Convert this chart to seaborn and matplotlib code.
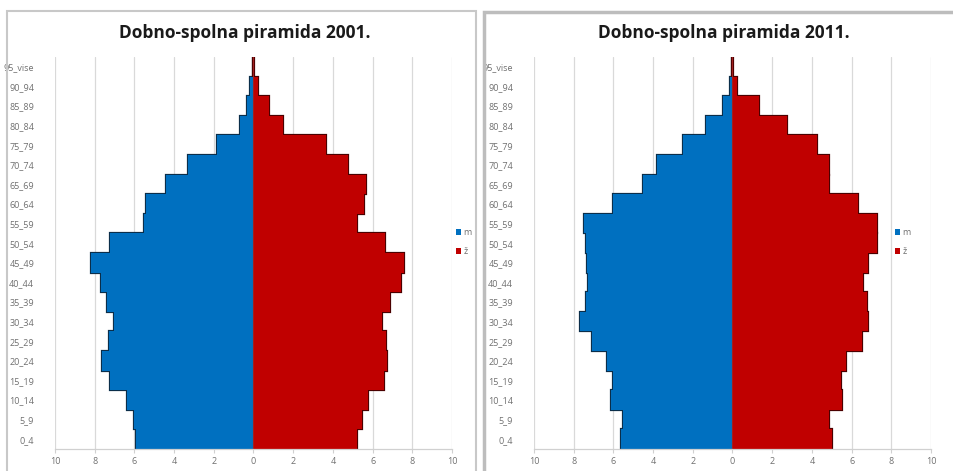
import matplotlib
matplotlib.use("Agg")
import matplotlib.pyplot as plt
import seaborn as sns
import pandas as pd
from matplotlib.patches import Rectangle

sns.set_theme(style="white")
plt.rcParams['font.family'] = ['Open Sans', 'DejaVu Sans']

age_groups = ["0_4", "5_9", "10_14", "15_19", "20_24", "25_29", "30_34", "35_39",
              "40_44", "45_49", "50_54", "55_59", "60_64", "65_69", "70_74",
              "75_79", "80_84", "85_89", "90_94", "95_vise"]

male_2001 = [5.92, 6.0, 6.35, 7.21, 7.63, 7.26, 7.04, 7.39, 7.68, 8.18,
             7.23, 5.53, 5.41, 4.4, 3.28, 1.85, 0.67, 0.34, 0.17, 0.03]
female_2001 = [5.23, 5.46, 5.76, 6.55, 6.72, 6.69, 6.47, 6.86, 7.45, 7.56,
               6.64, 5.23, 5.55, 5.65, 4.77, 3.63, 1.51, 0.77, 0.22, 0.04]

male_2011 = [5.6, 5.5, 6.1, 6.01, 6.3, 7.07, 7.69, 7.39, 7.27, 7.32,
             7.39, 7.49, 6.04, 4.49, 3.82, 2.51, 1.33, 0.46, 0.12, 0.02]
female_2011 = [5.0, 4.88, 5.52, 5.47, 5.72, 6.5, 6.82, 6.78, 6.58, 6.82,
               7.30, 7.27, 6.33, 4.88, 4.88, 4.25, 2.74, 1.31, 0.25, 0.04]

titles = ["Dobno-spolna piramida 2001.", "Dobno-spolna piramida 2011."]
legend_labels = ["m", "ž"]
x_ticks = [-10, -8, -6, -4, -2, 0, 2, 4, 6, 8, 10]

BLUE = "#0070C0"
RED = "#C00000"

W, H = 954, 471
fig = plt.figure(figsize=(W / 100, H / 100), dpi=100)

# chart frames
fig.add_artist(Rectangle((7 / W, -0.05), (476 - 7) / W, (471 - 11) / H + 0.05,
                         transform=fig.transFigure, fill=False,
                         edgecolor="#C8C8C8", linewidth=1.5))
fig.add_artist(Rectangle((484 / W, -0.05), (954 - 484) / W + 0.05, (471 - 12) / H + 0.05,
                         transform=fig.transFigure, fill=False,
                         edgecolor="#BDBDBD", linewidth=2.5))

order = age_groups[::-1]
datasets = [(male_2001, female_2001), (male_2011, female_2011)]
ax_lefts = [55 / W, 534 / W]
title_x = [245 / W, 724 / W]
legend_x = [452 / W, 891 / W]

for i, (male, female) in enumerate(datasets):
    ax = fig.add_axes([ax_lefts[i], 22 / H, 397 / W, 392 / H])
    df = pd.DataFrame({"age": age_groups,
                       "m": [-v for v in male],
                       "f": female})
    for x in x_ticks:
        ax.axvline(x, color="#D9D9D9", linewidth=0.9, zorder=0)
    # outline (shadow) layer
    sns.barplot(data=df, x="m", y="age", order=order, orient="h", ax=ax,
                color=BLUE, width=1.0, edgecolor="#0B2E4A", linewidth=1.6,
                saturation=1, zorder=1)
    sns.barplot(data=df, x="f", y="age", order=order, orient="h", ax=ax,
                color=RED, width=1.0, edgecolor="#4A0000", linewidth=1.6,
                saturation=1, zorder=1)
    # fill layer
    sns.barplot(data=df, x="m", y="age", order=order, orient="h", ax=ax,
                color=BLUE, width=1.0, linewidth=0,
                saturation=1, label=legend_labels[0], zorder=2)
    sns.barplot(data=df, x="f", y="age", order=order, orient="h", ax=ax,
                color=RED, width=1.0, linewidth=0,
                saturation=1, label=legend_labels[1], zorder=2)
    ax.axvline(0, color="#A02020", linewidth=0.8, zorder=3)
    ax.set_xlim(-10, 10)
    ax.set_ylim(len(order) - 0.5, -0.5)
    ax.set_xticks(x_ticks)
    ax.set_xticklabels([str(abs(x)) for x in x_ticks])
    ax.set_xlabel("")
    ax.set_ylabel("")
    for s in ["top", "right", "left"]:
        ax.spines[s].set_visible(False)
    ax.spines["bottom"].set_color("#D0D0D0")
    ax.spines["bottom"].set_linewidth(0.9)
    ax.spines["bottom"].set_zorder(4)
    ax.tick_params(axis="x", which="both", bottom=True, length=3, width=0.8,
                   color="#D0D0D0", labelsize=6.5, labelcolor="#707070", pad=3)
    ax.tick_params(axis="y", left=False, labelsize=6.5, labelcolor="#707070", pad=9)
    ax.set_facecolor("none")
    ax.grid(False)
    handles, labels = ax.get_legend_handles_labels()
    ax.legend(handles, labels, loc="center left",
              bbox_to_anchor=(legend_x[i], (471 - 242) / H),
              bbox_transform=fig.transFigure, frameon=False,
              fontsize=6.5, labelcolor="#707070", handlelength=0.6,
              handleheight=0.6, handletextpad=0.3, labelspacing=1.1,
              borderaxespad=0)
    fig.text(title_x[i], (471 - 33) / H, titles[i], ha="center", va="center",
             fontsize=12.5, fontweight="bold", color="#1A1A1A")

fig.savefig("out.png", dpi=100)
